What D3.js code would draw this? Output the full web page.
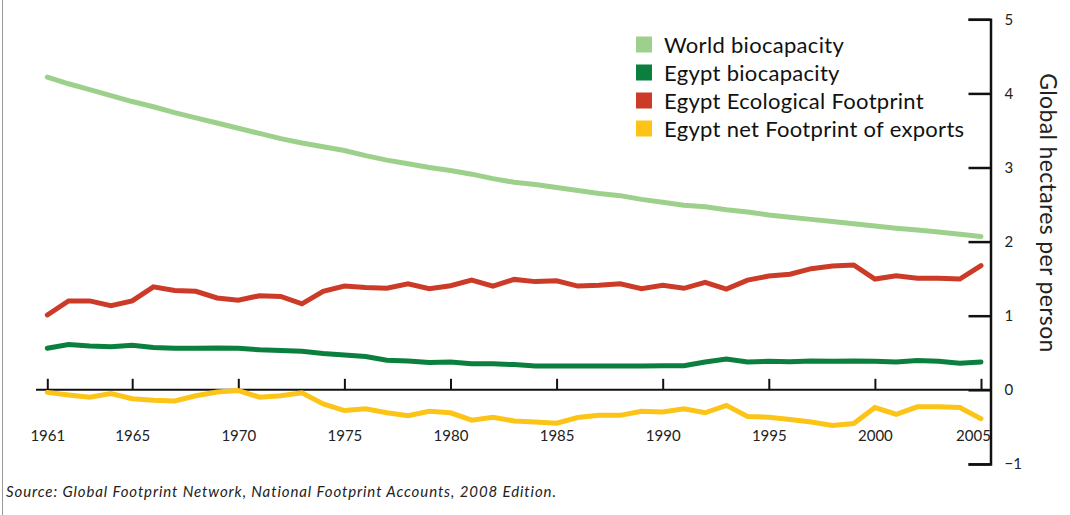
<!DOCTYPE html>
<html>
<head>
<meta charset="utf-8">
<script src="https://cdn.jsdelivr.net/npm/d3@7"></script>
<style>
  body { margin: 0; background: #fff; }
  svg { display: block; font-family: Lato, "Open Sans", sans-serif; }
</style>
</head>
<body>
<svg id="chart" width="1070" height="515"></svg>
<script>
const years = d3.range(1961, 2006);

const worldBiocapacity = [4.22, 4.13, 4.05, 3.97, 3.89, 3.82, 3.74, 3.67, 3.60, 3.53,
  3.46, 3.39, 3.33, 3.28, 3.23, 3.16, 3.10, 3.05, 3.00, 2.96,
  2.91, 2.85, 2.80, 2.77, 2.73, 2.69, 2.65, 2.62, 2.57, 2.53,
  2.49, 2.47, 2.43, 2.40, 2.36, 2.33, 2.30, 2.27, 2.24, 2.21,
  2.18, 2.155, 2.13, 2.10, 2.07];

const egyptBiocapacity = [0.56, 0.61, 0.59, 0.58, 0.60, 0.57, 0.56, 0.56, 0.565, 0.56,
  0.54, 0.53, 0.52, 0.49, 0.47, 0.45, 0.40, 0.39, 0.37, 0.375,
  0.35, 0.35, 0.34, 0.32, 0.32, 0.32, 0.32, 0.32, 0.32, 0.325,
  0.325, 0.375, 0.415, 0.375, 0.385, 0.38, 0.39, 0.385, 0.39, 0.385,
  0.375, 0.395, 0.385, 0.36, 0.375];

const egyptFootprint = [1.01, 1.20, 1.20, 1.135, 1.20, 1.39, 1.34, 1.33, 1.24, 1.21,
  1.27, 1.26, 1.16, 1.33, 1.40, 1.38, 1.37, 1.43, 1.365, 1.405,
  1.48, 1.40, 1.49, 1.46, 1.47, 1.40, 1.41, 1.43, 1.365, 1.41,
  1.37, 1.45, 1.36, 1.48, 1.535, 1.56, 1.635, 1.67, 1.685, 1.495,
  1.54, 1.505, 1.505, 1.495, 1.675];

const egyptExports = [-0.035, -0.07, -0.10, -0.05, -0.12, -0.14, -0.15, -0.08, -0.03, -0.01,
  -0.10, -0.08, -0.04, -0.19, -0.28, -0.255, -0.31, -0.35, -0.29, -0.31,
  -0.41, -0.37, -0.42, -0.435, -0.45, -0.375, -0.345, -0.345, -0.29, -0.30,
  -0.255, -0.31, -0.21, -0.36, -0.37, -0.40, -0.435, -0.48, -0.455, -0.24,
  -0.33, -0.23, -0.23, -0.24, -0.39];

const seriesNames = ["World biocapacity", "Egypt biocapacity", "Egypt Ecological Footprint", "Egypt net Footprint of exports"];
const seriesColors = ["#9dd18b", "#0b7f3e", "#cc3a28", "#fdc418"];
const yearTicks = [1961, 1965, 1970, 1975, 1980, 1985, 1990, 1995, 2000, 2005];
const valueTicks = [5, 4, 3, 2, 1, 0, -1];

const svg = d3.select("#chart");

const x = d3.scaleLinear().domain([1961, 2005]).range([47.3, 981]);
const y = d3.scaleLinear().domain([-1, 5]).range([463.9, 19.3]);
const axisX = 990.5;

// left frame line
svg.append("line")
    .attr("x1", 2.5).attr("x2", 2.5)
    .attr("y1", 0).attr("y2", 515)
    .attr("stroke", "#999")
    .attr("stroke-width", 1);

// x axis baseline
svg.append("line")
    .attr("x1", 36).attr("x2", axisX)
    .attr("y1", y(0)).attr("y2", y(0))
    .attr("stroke", "#111")
    .attr("stroke-width", 2);

const xAxis = svg.append("g")
    .attr("transform", `translate(0,${y(0)})`)
    .call(d3.axisBottom(x)
        .tickValues(yearTicks)
        .tickFormat(d3.format("d"))
        .tickSizeInner(-11)
        .tickSizeOuter(0)
        .tickPadding(41));
xAxis.select(".domain").remove();
xAxis.selectAll(".tick line").attr("stroke", "#111").attr("stroke-width", 2);
xAxis.selectAll(".tick text")
    .attr("fill", "#222")
    .style("font-size", "15px")
    .style("font-family", "Lato, sans-serif");
// last label sits left of the value axis
xAxis.selectAll(".tick text").filter(d => d === 2005).attr("dx", -8);

const yAxis = svg.append("g")
    .attr("transform", `translate(${axisX},0)`)
    .call(d3.axisRight(y)
        .tickValues(valueTicks)
        .tickFormat(d3.format("d"))
        .tickSize(-22)
        .tickPadding(14));
yAxis.select(".domain").attr("stroke", "#111").attr("stroke-width", 2.5);
yAxis.selectAll(".tick line").attr("stroke", "#111").attr("stroke-width", 2.5);
yAxis.selectAll(".tick text")
    .attr("fill", "#222")
    .style("font-size", "15px")
    .style("font-family", "Lato, sans-serif");

svg.append("text")
    .attr("transform", "translate(1040,213) rotate(90)")
    .attr("text-anchor", "middle")
    .attr("fill", "#222")
    .style("font-size", "23px")
    .style("letter-spacing", "0.35px")
    .text("Global hectares per person");

// lines
const line = d3.line()
    .x((d, i) => x(years[i]))
    .y(d => y(d));

const allSeries = [worldBiocapacity, egyptBiocapacity, egyptFootprint, egyptExports];

svg.append("g")
    .selectAll("path")
    .data(allSeries)
    .join("path")
    .attr("d", line)
    .attr("fill", "none")
    .attr("stroke", (d, i) => seriesColors[i])
    .attr("stroke-width", 5)
    .attr("stroke-linecap", "round");

// legend
const legend = svg.append("g")
    .attr("transform", "translate(636,36.5)");

const rows = legend.selectAll("g")
    .data(seriesNames)
    .join("g")
    .attr("transform", (d, i) => `translate(0,${i * 28})`);

rows.append("rect")
    .attr("width", 16)
    .attr("height", 16)
    .attr("fill", (d, i) => seriesColors[i]);

rows.append("text")
    .attr("x", 28)
    .attr("y", 16)
    .attr("fill", "#111")
    .style("font-size", "22px")
    .style("letter-spacing", "0.3px")
    .text(d => d);

// source
svg.append("text")
    .attr("x", 6)
    .attr("y", 497)
    .attr("fill", "#222")
    .style("font-size", "15px")
    .style("font-style", "italic")
    .style("letter-spacing", "0.9px")
    .text("Source: Global Footprint Network, National Footprint Accounts, 2008 Edition.");
</script>
</body>
</html>
